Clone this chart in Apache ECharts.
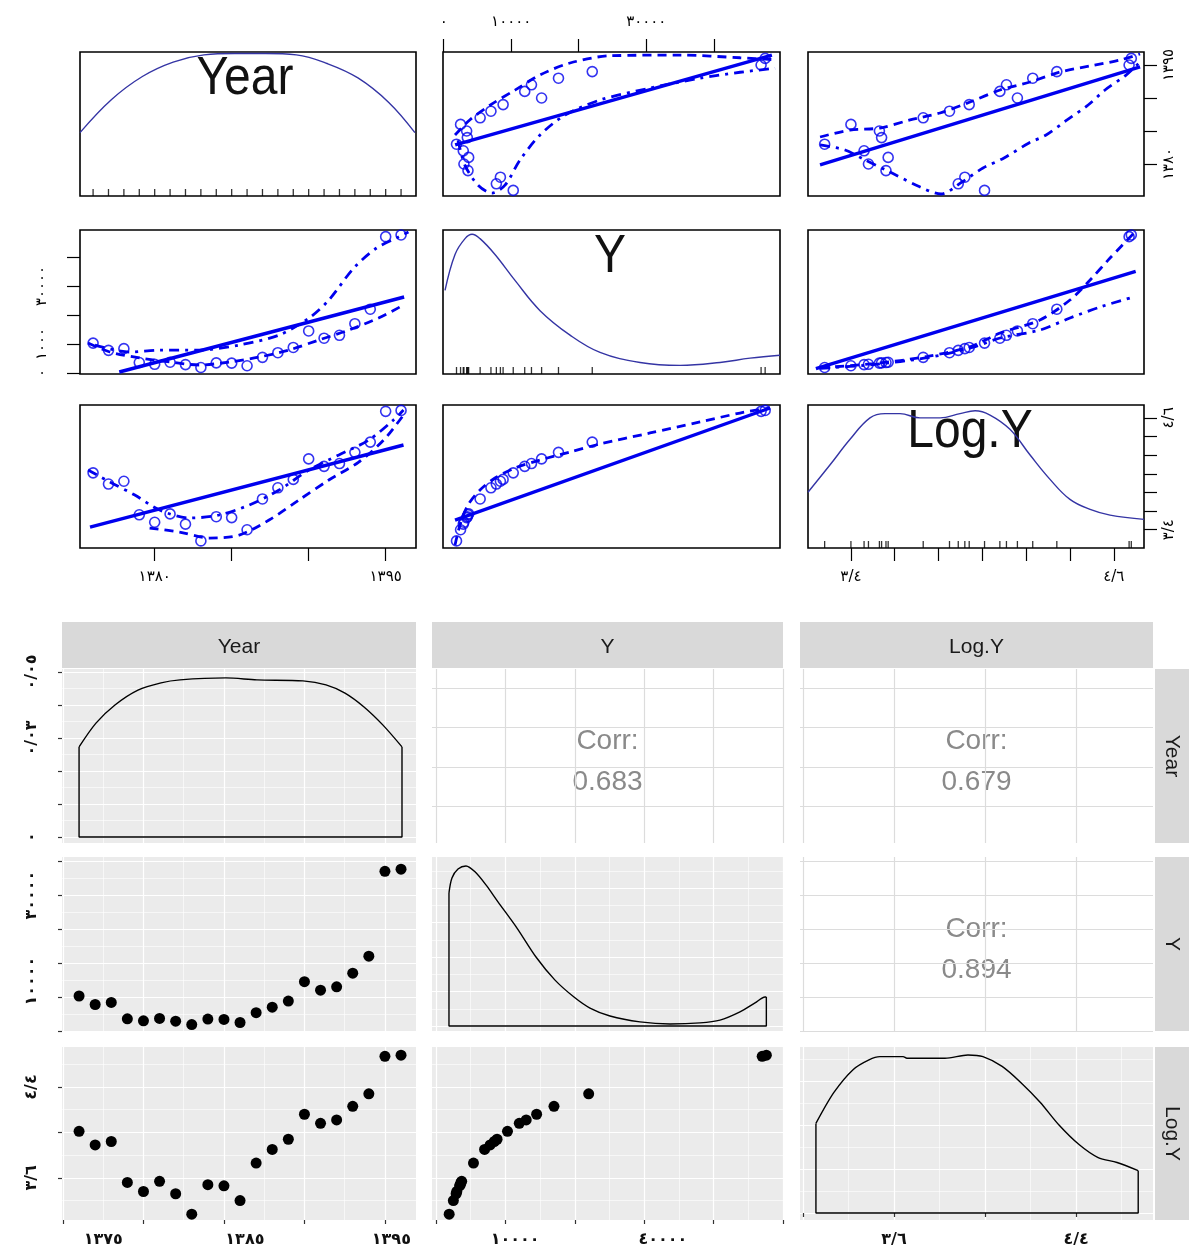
<!DOCTYPE html>
<html><head><meta charset="utf-8">
<script src="https://cdn.jsdelivr.net/npm/echarts@6/dist/echarts.min.js"></script>
<style>html,body{margin:0;padding:0;background:#fff}#c{width:1189px;height:1259px}</style>
</head><body><div id="c"></div>
<script>
// ---------------- DATA ----------------
const years = [1376,1377,1378,1379,1380,1381,1382,1383,1384,1385,1386,1387,1388,1389,1390,1391,1392,1393,1394,1395,1396];
const yValues = [10300,7800,8400,3600,3000,3700,2900,1900,3500,3400,2500,5400,7000,8800,14500,12000,13000,17000,22000,47000,47600];
const logYValues = [4.01,3.89,3.92,3.56,3.48,3.57,3.46,3.28,3.54,3.53,3.40,3.73,3.85,3.94,4.16,4.08,4.11,4.23,4.34,4.67,4.68];
const varNames = ['Year','Y','Log.Y'];
const corrLabel = 'Corr:';
const corrYearY = '0.683', corrYearLogY = '0.679', corrYLogY = '0.894';

// top (car::scatterplotMatrix) diagonal densities (relative height)
const topDensYearX = [1375.15,1377.2,1379.2,1381.2,1383.2,1385.2,1387.2,1389.2,1391.2,1393.2,1395.2,1396.9];
const topDensYearV = [0.44,0.67,0.83,0.93,0.98,0.99,0.99,0.98,0.92,0.82,0.65,0.44];
const topDensYX = [200,1680,3160,4200,5380,7600,10560,14270,18710,23150,29080,35000,40920,45370,49800];
const topDensYV = [0.58,0.83,0.94,0.97,0.94,0.83,0.65,0.44,0.27,0.15,0.08,0.06,0.08,0.11,0.13];
const topDensLogX = [3.204,3.304,3.396,3.487,3.556,3.624,3.715,3.807,3.898,3.967,4.035,4.126,4.218,4.309,4.400,4.492,4.583,4.738];
const topDensLogV = [0.39,0.58,0.76,0.91,0.94,0.94,0.91,0.91,0.94,0.96,0.93,0.83,0.65,0.48,0.34,0.27,0.23,0.20];

// top off-diagonal fitted lines: [x, y]
const fitYearOnY = [[1700,1382.9],[48600,1396.5]];
const smoothYearOnYUpper = [[1680,1384.4],[3900,1386.7],[6860,1388.9],[10560,1391.2],[14270,1393.5],[18710,1395.3],[24630,1396.4],[35000,1396.5],[43880,1396.1],[49070,1395.8]];
const smoothYearOnYLower = [[2120,1383.6],[3160,1379.8],[5080,1376.8],[7160,1375.6],[9080,1376.8],[11300,1380.6],[14270,1384.4],[17970,1387.4],[23150,1389.7],[30560,1391.5],[37960,1393.0],[43880,1393.9],[49070,1394.5]];

const fitYearOnLog = [[3.259,1379.85],[4.72,1394.7]];
const smoothYearOnLogUpper = [[3.259,1384.09],[3.396,1385.15],[3.533,1385.45],[3.670,1386.67],[3.807,1387.73],[3.944,1389.39],[4.081,1391.21],[4.218,1392.42],[4.355,1393.94],[4.492,1394.85],[4.629,1395.76],[4.720,1396.67]];
const smoothYearOnLogLower = [[3.259,1382.88],[3.373,1382.12],[3.464,1380.61],[3.578,1378.79],[3.706,1376.67],[3.811,1375.45],[3.907,1377.27],[4.003,1379.39],[4.099,1380.91],[4.213,1383.18],[4.291,1384.39],[4.387,1386.67],[4.483,1388.94],[4.560,1391.21],[4.656,1393.48],[4.720,1395.45]];

const fitYOnYear = [[1377.7,340],[1396.2,26200]];
const smoothYOnYearLower = [[1375.67,10340],[1377.09,7230],[1379.03,5170],[1380.97,3790],[1382.91,2750],[1384.85,3790],[1386.79,5510],[1388.72,7900],[1390.66,11370],[1392.6,14800],[1394.54,18960],[1396.16,23440]];
const smoothYOnYearUpper = [[1376.12,9630],[1378.38,7220],[1380.32,7900],[1382.91,7900],[1385.49,9630],[1388.08,13080],[1390.02,18940],[1391.31,25150],[1392.93,36190],[1394.41,43090],[1395.84,46880],[1396.48,48610]];

const fitYOnLog = [[3.24,1500],[4.70,35000]];
const smoothYOnLogUpper = [[3.26,1800],[3.5,3200],[3.75,5700],[3.95,9200],[4.081,13780],[4.263,18270],[4.4,25170],[4.492,32050],[4.583,39640],[4.697,48610]];
const smoothYOnLogLower = [[3.26,1600],[3.5,2900],[3.75,5300],[3.95,8700],[4.081,12060],[4.263,14810],[4.4,18960],[4.537,22740],[4.674,25850]];

const fitLogOnYear = [[1375.8,3.429],[1396.16,4.309]];
const smoothLogOnYearUpper = [[1375.67,4.041],[1377.09,3.912],[1378.71,3.772],[1380.32,3.611],[1382.26,3.526],[1384.2,3.558],[1386.14,3.665],[1388.08,3.826],[1390.02,4.041],[1391.96,4.202],[1393.9,4.362],[1395.51,4.577],[1396.16,4.684]];
const smoothLogOnYearLower = [[1379.67,3.418],[1381.61,3.375],[1383.55,3.311],[1385.49,3.343],[1387.43,3.504],[1389.37,3.719],[1391.31,3.933],[1393.25,4.126],[1394.87,4.362],[1396.16,4.631]];

const fitLogOnY = [[1680,3.504],[48330,4.706]];
const smoothLogOnYUpper = [[1680,3.236],[2420,3.451],[3600,3.665],[5380,3.826],[7600,3.955],[10560,4.062],[14270,4.148],[18710,4.234],[23150,4.320],[30560,4.438],[37960,4.556],[43880,4.652],[48330,4.706]];

// bottom (GGally::ggpairs) diagonal densities
const densYearX = [1376.0,1377.05,1378.23,1379.66,1381.09,1382.27,1385.12,1387.05,1389.91,1391.34,1392.52,1393.70,1394.88,1396.06];
const densYearV = [0.0273,0.0345,0.0400,0.0445,0.0467,0.0476,0.0482,0.0476,0.0473,0.0461,0.0436,0.0394,0.0339,0.0273];
const densYX = [1870,2300,3170,4320,5620,7200,8930,11670,14410,17150,19880,22190,25070,29390,33720,38040,40920,43800,45970,47410,47600];
const densYV = [3.86,4.29,4.55,4.64,4.47,4.09,3.60,2.84,2.00,1.33,0.84,0.52,0.29,0.12,0.06,0.09,0.17,0.41,0.67,0.84,0.84]; // x1e-5
const densLogX = [3.257,3.336,3.420,3.490,3.538,3.640,3.657,3.824,3.925,3.991,4.075,4.158,4.242,4.325,4.413,4.497,4.580,4.673];
const densLogV = [0.55,0.74,0.88,0.94,0.96,0.96,0.95,0.95,0.97,0.96,0.90,0.80,0.68,0.54,0.42,0.34,0.31,0.26];

// tick values and tick labels
const topYearTicks = [1380,1385,1390,1395];
const topYTicks = [0,10000,20000,30000,40000];
const topLogTicks = [3.4,3.6,3.8,4.0,4.2,4.4,4.6];
const topYTopLabels = [[0,'٠'],[10000,'١٠٠٠٠'],[30000,'٣٠٠٠٠']];
const topYLeftLabels = [[30000,'٣٠٠٠٠'],[10000,'١٠٠٠'],[0,'٠']];
const topYearLabels = [[1380,'١٣٨٠'],[1395,'١٣٩٥']];
const topLogLabels = [[3.4,'٣/٤'],[4.6,'٤/٦']];

const yearMajor = [1375,1380,1385,1390,1395];
const yearMinor = [1377.5,1382.5,1387.5,1392.5];
const yMajor = [0,10000,20000,30000,40000,50000];
const yMinor = [5000,15000,25000,35000,45000];
const logMajor = [3.2,3.6,4.0,4.4];
const logMinor = [3.4,3.8,4.2,4.6];
const densYearMajor = [0,0.01,0.02,0.03,0.04,0.05];
const densYearMinor = [0.005,0.015,0.025,0.035,0.045];
const densYMajor = [0,1,2,3,4];
const densYMinor = [0.5,1.5,2.5,3.5,4.5];
const densLogMajor = [0,0.27,0.54,0.81];
const densLogMinor = [0.135,0.405,0.675,0.945];
const botDensLabels = [[0.05,'٠/٠٥'],[0.03,'٠/٠٣'],[0,'٠']];
const botYLeftLabels = [[40000,'٣٠٠٠٠'],[14700,'١٠٠٠٠']];
const botLogLeftLabels = [[4.4,'٤/٤'],[3.6,'٣/٦']];
const botYearLabels = [[1377.5,'١٣٧٥'],[1386.3,'١٣٨٥'],[1395.4,'١٣٩٥']];
const botYLabels = [[11400,'١٠٠٠٠'],[32700,'٤٠٠٠٠']];
const botLogLabels = [[3.6,'٣/٦'],[4.4,'٤/٤']];

// ---------------- LAYOUT ----------------
const TOP_COLS = [[80,416],[443,780],[808,1144]];
const TOP_ROWS = [[52,196],[230,374],[405,548]];
const BOT_COLS = [[62,416],[432,783],[800,1153]];
const BOT_ROWS = [[669,843],[857,1031],[1047,1220]];
const TOP_YEAR = [1375.15,1396.97], TOP_Y_H = [-100,49800], TOP_Y_V = [-345,49300], TOP_LOG = [3.204,4.738], TOP_DENS = [0,1.0];
const B_YEAR_H = [1374.94,1396.93], B_Y_H = [-576,50000], B_LOG_H = [3.187,4.738];
const B_YEAR_V = [1375.4,1397.4], B_Y_V = [0,51200], B_LOG_V = [3.229,4.752];
const B_DY = [-0.0018,0.0509], B_DYD = [-0.145,4.90], B_DLD = [-0.043,1.019];

const BLUE = '#0000ee', DBLUE = '#3434a4';
const FA = 'DejaVu Sans';
const grids = [], xAxes = [], yAxes = [], series = [];

function labelFor(labels, v) {
  if (!labels) return '';
  let best = labels[0], bd = Infinity;
  labels.forEach(l => { const d = Math.abs(l[0] - v); if (d < bd) { bd = d; best = l; } });
  return best[1];
}
function mkAxis(gi, s, dim) {
  return {
    type: 'value', gridIndex: gi, min: s.range[0], max: s.range[1],
    position: s.pos || (dim === 'x' ? 'bottom' : 'left'),
    axisLine: { show: false },
    axisTick: { show: !!s.tickShow, customValues: s.ticks || [], length: s.tickLen || 4, inside: false,
      lineStyle: { color: s.tickColor || '#000', width: s.tickWidth || 1.2 } },
    axisLabel: { show: !!s.labels, customValues: s.labels ? s.labels.map(l => l[0]) : [],
      formatter: v => labelFor(s.labels, v), rotate: s.rotate || 0, margin: s.margin || 8,
      color: s.labelColor || '#000', fontSize: s.fontSize || 12, fontFamily: FA, fontWeight: s.fontWeight || 'normal' },
    splitLine: { show: !!s.gridColor, lineStyle: { color: s.gridColor || '#fff', width: s.gridWidth || 1.2 } },
    minorTick: { show: false }, minorSplitLine: { show: false },
    silent: true
  };
}
function cell(col, row, xs, ys, style) {
  const gi = grids.length;
  grids.push({ left: col[0], top: row[0], width: col[1] - col[0], height: row[1] - row[0], show: true,
    backgroundColor: style.bg, borderColor: style.border || 'rgba(0,0,0,0)', borderWidth: style.borderWidth || 0,
    containLabel: false, outerBoundsMode: 'none' });
  if (xs.minor) xAxes.push(mkAxis(gi, { range: xs.range, ticks: xs.minor, gridColor: xs.gridColor, gridWidth: 0.6 }, 'x'));
  if (ys.minor) yAxes.push(mkAxis(gi, { range: ys.range, ticks: ys.minor, gridColor: ys.gridColor, gridWidth: 0.6 }, 'y'));
  const xi = xAxes.length; xAxes.push(mkAxis(gi, xs, 'x'));
  const yi = yAxes.length; yAxes.push(mkAxis(gi, ys, 'y'));
  const c = { gi, xi, yi };
  if (ys.extra) { c.yi2 = yAxes.length; yAxes.push(mkAxis(gi, ys.extra, 'y')); }
  return c;
}
const zip = (a, b) => a.map((v, i) => [v, b[i]]);

// ---------------- TOP HALF ----------------
const topStyle = { bg: '#fff', border: '#000', borderWidth: 1.6 };
const tTick = { tickShow: true, tickLen: 13, tickColor: '#000', fontSize: 15 };
const T = [[], [], []];
T[0][0] = cell(TOP_COLS[0], TOP_ROWS[0], { range: TOP_YEAR }, { range: TOP_DENS }, topStyle);
T[0][1] = cell(TOP_COLS[1], TOP_ROWS[0], Object.assign({ range: TOP_Y_H, pos: 'top', ticks: topYTicks, labels: topYTopLabels, margin: 22 }, tTick), { range: TOP_YEAR }, topStyle);
T[0][2] = cell(TOP_COLS[2], TOP_ROWS[0], { range: TOP_LOG }, Object.assign({ range: TOP_YEAR, pos: 'right', ticks: topYearTicks, labels: topYearLabels, rotate: 90, margin: 18 }, tTick), topStyle);
T[1][0] = cell(TOP_COLS[0], TOP_ROWS[1], { range: TOP_YEAR }, Object.assign({ range: TOP_Y_V, pos: 'left', ticks: topYTicks, labels: topYLeftLabels, rotate: 90, margin: 30 }, tTick), topStyle);
T[1][1] = cell(TOP_COLS[1], TOP_ROWS[1], { range: TOP_Y_H }, { range: TOP_DENS }, topStyle);
T[1][2] = cell(TOP_COLS[2], TOP_ROWS[1], { range: TOP_LOG }, { range: TOP_Y_V }, topStyle);
T[2][0] = cell(TOP_COLS[0], TOP_ROWS[2], Object.assign({ range: TOP_YEAR, ticks: topYearTicks, labels: topYearLabels, margin: 22 }, tTick), { range: TOP_LOG }, topStyle);
T[2][1] = cell(TOP_COLS[1], TOP_ROWS[2], { range: TOP_Y_H }, { range: TOP_LOG }, topStyle);
T[2][2] = cell(TOP_COLS[2], TOP_ROWS[2], Object.assign({ range: TOP_LOG, ticks: topLogTicks, labels: topLogLabels, margin: 22 }, tTick),
  { range: TOP_DENS, extra: Object.assign({ range: TOP_LOG, pos: 'right', ticks: topLogTicks, labels: [[4.6,'٤/٦'],[3.4,'٣/٤']], rotate: 90, margin: 18 }, tTick) }, topStyle);

function topDensity(c, xs, vs, rug) {
  series.push({ type: 'line', xAxisIndex: c.xi, yAxisIndex: c.yi, data: zip(xs, vs), smooth: 0.4, symbol: 'none',
    lineStyle: { color: DBLUE, width: 1.4 }, silent: true, z: 3 });
  series.push({ type: 'scatter', xAxisIndex: c.xi, yAxisIndex: c.yi, data: rug.map(v => [v, 0]), symbol: 'rect',
    symbolSize: [1.3, 7], symbolOffset: [0, -3.5], itemStyle: { color: '#000' }, silent: true, z: 3 });
}
function topPair(c, xs, ys, fit, upper, lower) {
  series.push({ type: 'scatter', xAxisIndex: c.xi, yAxisIndex: c.yi, data: zip(xs, ys), symbol: 'circle', symbolSize: 10,
    itemStyle: { color: 'rgba(0,0,0,0)', borderColor: BLUE, borderWidth: 1.6 }, silent: true, z: 4 });
  series.push({ type: 'line', xAxisIndex: c.xi, yAxisIndex: c.yi, data: fit, symbol: 'none',
    lineStyle: { color: BLUE, width: 3.4 }, silent: true, z: 3 });
  if (upper) series.push({ type: 'line', xAxisIndex: c.xi, yAxisIndex: c.yi, data: upper, symbol: 'none', smooth: 0.3,
    lineStyle: { color: BLUE, width: 2.8, type: [9, 6] }, silent: true, z: 3 });
  if (lower) series.push({ type: 'line', xAxisIndex: c.xi, yAxisIndex: c.yi, data: lower, symbol: 'none', smooth: 0.3,
    lineStyle: { color: BLUE, width: 2.8, type: [10, 6, 3, 6] }, silent: true, z: 3 });
}
topDensity(T[0][0], topDensYearX, topDensYearV, years);
topDensity(T[1][1], topDensYX, topDensYV, yValues);
topDensity(T[2][2], topDensLogX, topDensLogV, logYValues);
topPair(T[0][1], yValues, years, fitYearOnY, smoothYearOnYUpper, smoothYearOnYLower);
topPair(T[0][2], logYValues, years, fitYearOnLog, smoothYearOnLogUpper, smoothYearOnLogLower);
topPair(T[1][0], years, yValues, fitYOnYear, smoothYOnYearLower, smoothYOnYearUpper);
topPair(T[1][2], logYValues, yValues, fitYOnLog, smoothYOnLogUpper, smoothYOnLogLower);
topPair(T[2][0], years, logYValues, fitLogOnYear, smoothLogOnYearLower, smoothLogOnYearUpper);
topPair(T[2][1], yValues, logYValues, fitLogOnY, smoothLogOnYUpper, null);

// ---------------- BOTTOM HALF ----------------
const grayStyle = { bg: '#ebebeb' };
const whiteStyle = { bg: '#ffffff' };
const W = '#ffffff', LG = '#dcdcdc';
const bTick = { tickShow: true, tickLen: 4, tickColor: '#333', fontSize: 16, labelColor: '#111', fontWeight: 'bold' };
const B = [[], [], []];
B[0][0] = cell(BOT_COLS[0], BOT_ROWS[0], { range: B_YEAR_H, ticks: yearMajor, minor: yearMinor, gridColor: W },
  Object.assign({ range: B_DY, ticks: densYearMajor, minor: densYearMinor, gridColor: W, labels: botDensLabels, rotate: 90, margin: 22 }, bTick), grayStyle);
B[0][1] = cell(BOT_COLS[1], BOT_ROWS[0], { range: B_Y_H, ticks: yMajor, gridColor: LG }, { range: B_YEAR_V, ticks: yearMajor, gridColor: LG }, whiteStyle);
B[0][2] = cell(BOT_COLS[2], BOT_ROWS[0], { range: B_LOG_H, ticks: logMajor, gridColor: LG }, { range: B_YEAR_V, ticks: yearMajor, gridColor: LG }, whiteStyle);
B[1][0] = cell(BOT_COLS[0], BOT_ROWS[1], { range: B_YEAR_H, ticks: yearMajor, minor: yearMinor, gridColor: W },
  Object.assign({ range: B_Y_V, ticks: yMajor, minor: yMinor, gridColor: W, labels: botYLeftLabels, rotate: 90, margin: 22 }, bTick), grayStyle);
B[1][1] = cell(BOT_COLS[1], BOT_ROWS[1], { range: B_Y_H, ticks: yMajor, minor: yMinor, gridColor: W }, { range: B_DYD, ticks: densYMajor, minor: densYMinor, gridColor: W }, grayStyle);
B[1][2] = cell(BOT_COLS[2], BOT_ROWS[1], { range: B_LOG_H, ticks: logMajor, gridColor: LG }, { range: B_Y_V, ticks: yMajor, gridColor: LG }, whiteStyle);
B[2][0] = cell(BOT_COLS[0], BOT_ROWS[2], Object.assign({ range: B_YEAR_H, ticks: yearMajor, minor: yearMinor, gridColor: W, labels: botYearLabels, margin: 12 }, bTick),
  Object.assign({ range: B_LOG_V, ticks: logMajor, minor: logMinor, gridColor: W, labels: botLogLeftLabels, rotate: 90, margin: 22 }, bTick), grayStyle);
B[2][1] = cell(BOT_COLS[1], BOT_ROWS[2], Object.assign({ range: B_Y_H, ticks: yMajor, minor: yMinor, gridColor: W, labels: botYLabels, margin: 12 }, bTick),
  { range: B_LOG_V, ticks: logMajor, minor: logMinor, gridColor: W }, grayStyle);
B[2][2] = cell(BOT_COLS[2], BOT_ROWS[2], Object.assign({ range: B_LOG_H, ticks: logMajor, minor: logMinor, gridColor: W, labels: botLogLabels, margin: 12 }, bTick),
  { range: B_DLD, ticks: densLogMajor, minor: densLogMinor, gridColor: W }, grayStyle);

function botDensity(c, xs, vs) {
  series.push({ type: 'line', xAxisIndex: c.xi, yAxisIndex: c.yi, data: zip(xs, vs), smooth: 0.3, symbol: 'none',
    lineStyle: { color: '#000', width: 1.4 }, silent: true, z: 3 });
  const n = xs.length - 1;
  series.push({ type: 'line', xAxisIndex: c.xi, yAxisIndex: c.yi,
    data: [[xs[0], vs[0]], [xs[0], 0], [xs[n], 0], [xs[n], vs[n]]], symbol: 'none',
    lineStyle: { color: '#000', width: 1.4 }, silent: true, z: 3 });
}
function botPoints(c, xs, ys) {
  series.push({ type: 'scatter', xAxisIndex: c.xi, yAxisIndex: c.yi, data: zip(xs, ys), symbol: 'circle', symbolSize: 11,
    itemStyle: { color: '#000', opacity: 1 }, silent: true, z: 3 });
}
botDensity(B[0][0], densYearX, densYearV);
botDensity(B[1][1], densYX, densYV);
botDensity(B[2][2], densLogX, densLogV);
botPoints(B[1][0], years, yValues);
botPoints(B[2][0], years, logYValues);
botPoints(B[2][1], yValues, logYValues);

// ---------------- TEXT / STRIPS ----------------
const graphic = [];
const TXT = 'Liberation Sans, Arial, sans-serif';
function gtext(x, y, text, size, fill, rot, extra) {
  graphic.push(Object.assign({ type: 'text', x, y, rotation: rot || 0, silent: true,
    style: { text, fontSize: size, fontFamily: TXT, fill, align: 'center', verticalAlign: 'middle' } }, extra || {}));
}
// top diag titles
gtext(245, 79, varNames[0], 48, '#111', 0, { scaleY: 1.1 });
gtext(610, 257, varNames[1], 48, '#111', 0, { scaleY: 1.1 });
gtext(970, 432, varNames[2], 48, '#111', 0, { scaleY: 1.1 });
// bottom strips
BOT_COLS.forEach((c, i) => {
  graphic.push({ type: 'rect', shape: { x: c[0], y: 622, width: c[1] - c[0], height: 46 }, style: { fill: '#d9d9d9' }, silent: true });
  gtext((c[0] + c[1]) / 2, 647, varNames[i], 21, '#1a1a1a');
});
BOT_ROWS.forEach((r, i) => {
  graphic.push({ type: 'rect', shape: { x: 1155, y: r[0], width: 34, height: r[1] - r[0] }, style: { fill: '#d9d9d9' }, silent: true });
  gtext(1172, (r[0] + r[1]) / 2, varNames[i], 21, '#1a1a1a', -Math.PI / 2);
});
// correlations
function corr(col, row, val) {
  const cx = (BOT_COLS[col][0] + BOT_COLS[col][1]) / 2, cy = (BOT_ROWS[row][0] + BOT_ROWS[row][1]) / 2;
  gtext(cx, cy - 15, corrLabel, 28, '#8a8a8a');
  gtext(cx, cy + 26, val, 28, '#8a8a8a');
}
corr(1, 0, corrYearY);
corr(2, 0, corrYearLogY);
corr(2, 1, corrYLogY);

const chart = echarts.init(document.getElementById('c'), null, { renderer: 'canvas' });
chart.setOption({
  animation: false,
  backgroundColor: '#ffffff',
  grid: grids, xAxis: xAxes, yAxis: yAxes, series, graphic
});
</script>
</body></html>
